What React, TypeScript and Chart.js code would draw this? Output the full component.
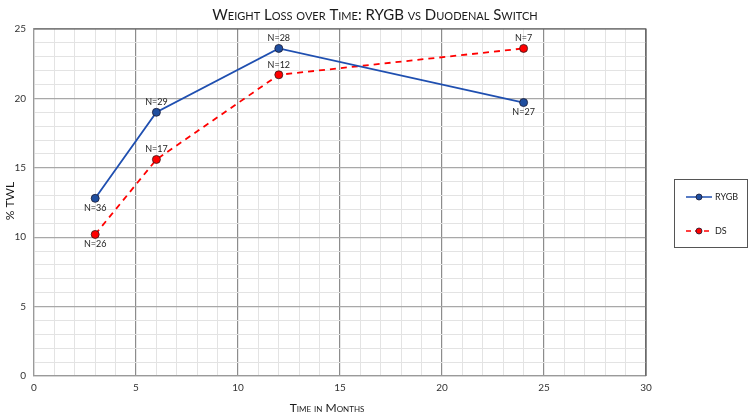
import React, { useEffect, useRef } from "react";
import { Chart, registerables } from "chart.js";

Chart.register(...registerables);

const months = [3, 6, 12, 24];
const rygbTWL = [12.8, 19.0, 23.6, 19.7];
const dsTWL = [10.2, 15.6, 21.7, 23.6];
const rygbN = [36, 29, 28, 27];
const dsN = [26, 17, 12, 7];
const rygbBelow = [true, false, false, true];
const dsBelow = [true, false, false, false];
const xTicks = [0, 5, 10, 15, 20, 25, 30];
const yTicks = [0, 5, 10, 15, 20, 25];

const FONT = "Lato, 'Open Sans', sans-serif";
const BLUE = "#1f4fb0";
const RED = "#ff0000";

const overlay = {
  id: "overlay",
  afterDatasetsDraw(chart: any) {
    const { ctx, chartArea } = chart;
    const { left, right, top, bottom } = chartArea;
    ctx.save();
    // border top / right
    ctx.strokeStyle = "#555555";
    ctx.lineWidth = 1.2;
    ctx.beginPath();
    ctx.moveTo(left, top);
    ctx.lineTo(right, top);
    ctx.lineTo(right, bottom);
    ctx.stroke();

    // data labels
    ctx.fillStyle = "#222222";
    ctx.font = `9px ${FONT}`;
    ctx.textAlign = "center";
    ctx.textBaseline = "middle";
    const sets = [
      { n: rygbN, below: rygbBelow },
      { n: dsN, below: dsBelow },
    ];
    sets.forEach((s, di) => {
      const meta = chart.getDatasetMeta(di);
      meta.data.forEach((pt: any, i: number) => {
        const dy = s.below[i] ? 10 : -10;
        ctx.fillText(`N=${s.n[i]}`, pt.x, pt.y + dy);
      });
    });

    // title
    ctx.fillStyle = "#1a1a1a";
    (ctx as any).fontVariantCaps = "small-caps";
    ctx.font = `small-caps 15px ${FONT}`;
    ctx.textAlign = "center";
    ctx.textBaseline = "middle";
    ctx.fillText("Weight Loss over Time: RYGB vs Duodenal Switch", 375, 15);

    // x axis title
    ctx.font = `small-caps 12px ${FONT}`;
    ctx.fillText("Time in Months", 327, 408);
    (ctx as any).fontVariantCaps = "normal";

    // y axis title
    ctx.save();
    ctx.translate(10, 201);
    ctx.rotate(-Math.PI / 2);
    ctx.font = `12px ${FONT}`;
    ctx.fillText("% TWL", 0, 0);
    ctx.restore();

    // legend
    const lx = 674, ly = 179, lw = 73, lh = 68;
    ctx.fillStyle = "#ffffff";
    ctx.fillRect(lx, ly, lw, lh);
    ctx.strokeStyle = "#555555";
    ctx.lineWidth = 1;
    ctx.strokeRect(lx + 0.5, ly + 0.5, lw, lh);
    const items = [
      { label: "RYGB", color: BLUE, dash: [] as number[], y: 197, fill: "#1f4e9f" },
      { label: "DS", color: RED, dash: [5, 4], y: 231, fill: "#ff0000" },
    ];
    items.forEach((it) => {
      ctx.strokeStyle = it.color;
      ctx.lineWidth = 1.5;
      ctx.setLineDash(it.dash);
      ctx.beginPath();
      ctx.moveTo(686, it.y);
      ctx.lineTo(712, it.y);
      ctx.stroke();
      ctx.setLineDash([]);
      ctx.beginPath();
      ctx.arc(699, it.y, 3, 0, Math.PI * 2);
      ctx.fillStyle = it.fill;
      ctx.fill();
      ctx.strokeStyle = "#1a1a33";
      ctx.lineWidth = 0.8;
      ctx.stroke();
      ctx.fillStyle = "#222222";
      ctx.font = `9px ${FONT}`;
      ctx.textAlign = "left";
      ctx.textBaseline = "middle";
      ctx.fillText(it.label, 715, it.y);
    });
    ctx.restore();
  },
};

export default function App() {
  const ref = useRef<HTMLCanvasElement>(null);
  useEffect(() => {
    if (!ref.current) return;
    const chart = new Chart(ref.current, {
      type: "line",
      data: {
        datasets: [
          {
            label: "RYGB",
            data: months.map((m, i) => ({ x: m, y: rygbTWL[i] })),
            borderColor: BLUE,
            borderWidth: 1.8,
            pointBackgroundColor: "#1f4e9f",
            pointBorderColor: "#1a1a33",
            pointBorderWidth: 0.8,
            pointRadius: 4,
            tension: 0,
          },
          {
            label: "DS",
            data: months.map((m, i) => ({ x: m, y: dsTWL[i] })),
            borderColor: RED,
            borderWidth: 1.8,
            borderDash: [6, 5],
            pointBackgroundColor: "#ff0000",
            pointBorderColor: "#331a1a",
            pointBorderWidth: 0.8,
            pointRadius: 4,
            tension: 0,
          },
        ],
      },
      options: {
        animation: false,
        responsive: false,
        devicePixelRatio: 1,
        layout: { padding: { left: 0, top: 29, right: 103, bottom: 0 } },
        plugins: {
          legend: { display: false },
          title: { display: false },
          tooltip: { enabled: false },
        },
        scales: {
          x: {
            type: "linear",
            min: 0,
            max: 30,
            afterFit: (s: any) => {
              s.height = 41;
            },
            afterBuildTicks: (s: any) => {
              const t: any[] = [];
              for (let v = 0; v <= 30; v++) t.push({ value: v });
              s.ticks = t;
            },
            ticks: {
              autoSkip: false,
              maxRotation: 0,
              padding: 6,
              color: "#333333",
              font: { family: FONT, size: 10 },
              callback: (v: any) => (xTicks.includes(Number(v)) ? String(v) : ""),
            },
            grid: {
              drawTicks: false,
              color: (c: any) => (c.tick && c.tick.value % 5 === 0 ? "#8c8c8c" : "#e3e3e3"),
              lineWidth: (c: any) => (c.tick && c.tick.value % 5 === 0 ? 1.2 : 1),
            },
            border: { color: "#9a9a9a", width: 1.2 },
          },
          y: {
            type: "linear",
            min: 0,
            max: 25,
            afterFit: (s: any) => {
              s.width = 34;
            },
            afterBuildTicks: (s: any) => {
              const t: any[] = [];
              for (let v = 0; v <= 25; v++) t.push({ value: v });
              s.ticks = t;
            },
            ticks: {
              autoSkip: false,
              padding: 8,
              color: "#333333",
              font: { family: FONT, size: 10 },
              callback: (v: any) => (yTicks.includes(Number(v)) ? String(v) : ""),
            },
            grid: {
              drawTicks: false,
              color: (c: any) => (c.tick && c.tick.value % 5 === 0 ? "#a8a8a8" : "#e3e3e3"),
              lineWidth: (c: any) => (c.tick && c.tick.value % 5 === 0 ? 1.3 : 1),
            },
            border: { color: "#9a9a9a", width: 1.2 },
          },
        },
      },
      plugins: [overlay],
    });
    return () => chart.destroy();
  }, []);
  return (
    <div style={{ position: "fixed", left: 0, top: 0, width: 749, height: 417, background: "#fff" }}>
      <canvas ref={ref} width={749} height={417} style={{ width: 749, height: 417, display: "block" }} />
    </div>
  );
}
